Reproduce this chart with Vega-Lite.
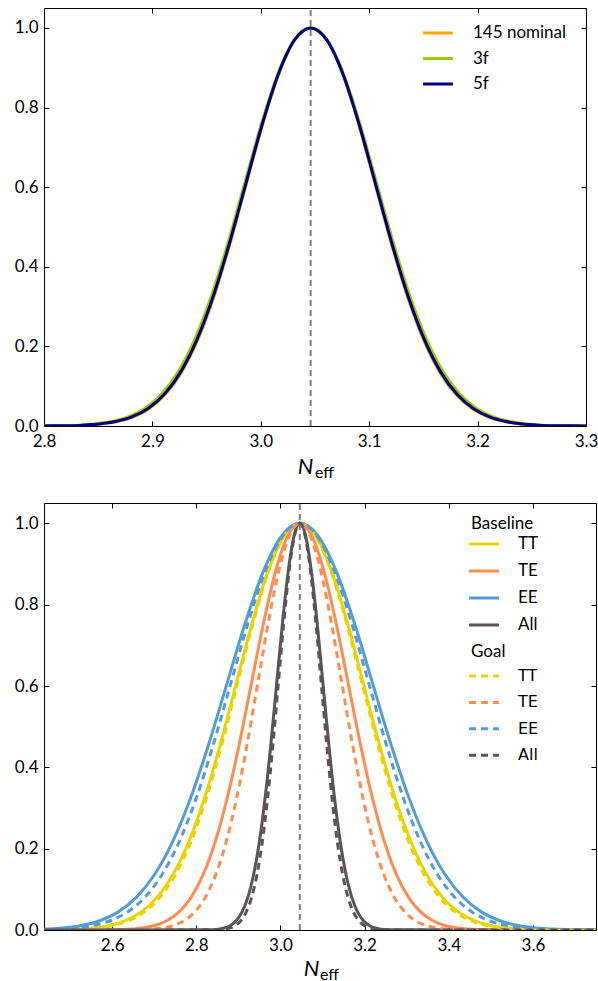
{
"$schema": "https://vega.github.io/schema/vega-lite/v6.json",
"autosize": {"type": "pad"},
"padding": {"left": 13, "top": 6, "right": 0, "bottom": 0},
"spacing": 77,
"bounds": "flush",
"resolve": {"scale": {"color": "independent", "stroke": "independent"}, "legend": {"color": "independent", "stroke": "independent"}},
"config": {
  "view": {"stroke": "black", "strokeWidth": 1},
  "font": "Lato",
  "axis": {"domain": false, "grid": false, "tickSize": -5, "tickColor": "black", "tickWidth": 1, "labelFont": "Lato", "labelFontSize": 17, "labelColor": "black", "labelFlush": false, "labelOverlap": false, "titleColor": "black"},
  "legend": {"padding": 0, "labelFont": "Lato", "labelFontSize": 17, "labelColor": "black", "titleFont": "Lato", "titleFontSize": 17, "titleFontWeight": "normal", "titleColor": "black", "titlePadding": 2, "symbolType": "M-1.3,0H1.3", "symbolSize": 529, "symbolStrokeWidth": 3}
},
"datasets": {
"top": [
{"s":"145 nominal","x":2.75,"y":0},
{"s":"145 nominal","x":2.808,"y":0.000335},{"s":"145 nominal","x":2.8229,"y":0.000884},{"s":"145 nominal","x":2.8378,"y":0.002187},{"s":"145 nominal","x":2.8526,"y":0.005086},{"s":"145 nominal","x":2.8675,"y":0.01111},{"s":"145 nominal","x":2.8824,"y":0.02279},{"s":"145 nominal","x":2.8973,"y":0.04394},{"s":"145 nominal","x":2.9121,"y":0.07956},{"s":"145 nominal","x":2.927,"y":0.13534},{"s":"145 nominal","x":2.9419,"y":0.21627},{"s":"145 nominal","x":2.9568,"y":0.32465},{"s":"145 nominal","x":2.9716,"y":0.45783},{"s":"145 nominal","x":2.9865,"y":0.60653},{"s":"145 nominal","x":3.0014,"y":0.75484},{"s":"145 nominal","x":3.0163,"y":0.8825},{"s":"145 nominal","x":3.0311,"y":0.96923},{"s":"145 nominal","x":3.046,"y":1},{"s":"145 nominal","x":3.0609,"y":0.96923},{"s":"145 nominal","x":3.0758,"y":0.8825},{"s":"145 nominal","x":3.0906,"y":0.75484},{"s":"145 nominal","x":3.1055,"y":0.60653},{"s":"145 nominal","x":3.1204,"y":0.45783},{"s":"145 nominal","x":3.1353,"y":0.32465},{"s":"145 nominal","x":3.1501,"y":0.21627},{"s":"145 nominal","x":3.165,"y":0.13534},{"s":"145 nominal","x":3.1799,"y":0.07956},{"s":"145 nominal","x":3.1948,"y":0.04394},{"s":"145 nominal","x":3.2096,"y":0.02279},{"s":"145 nominal","x":3.2245,"y":0.01111},{"s":"145 nominal","x":3.2394,"y":0.005086},{"s":"145 nominal","x":3.2543,"y":0.002187},{"s":"145 nominal","x":3.2691,"y":0.000884},{"s":"145 nominal","x":3.284,"y":0.000335},
{"s":"145 nominal","x":3.35,"y":0},
{"s":"3f","x":2.75,"y":0},
{"s":"3f","x":2.8012,"y":0.000335},{"s":"3f","x":2.8165,"y":0.000884},{"s":"3f","x":2.8318,"y":0.002187},{"s":"3f","x":2.8471,"y":0.005086},{"s":"3f","x":2.8624,"y":0.01111},{"s":"3f","x":2.8777,"y":0.02279},{"s":"3f","x":2.893,"y":0.04394},{"s":"3f","x":2.9083,"y":0.07956},{"s":"3f","x":2.9236,"y":0.13534},{"s":"3f","x":2.9389,"y":0.21627},{"s":"3f","x":2.9542,"y":0.32465},{"s":"3f","x":2.9695,"y":0.45783},{"s":"3f","x":2.9848,"y":0.60653},{"s":"3f","x":3.0001,"y":0.75484},{"s":"3f","x":3.0154,"y":0.8825},{"s":"3f","x":3.0307,"y":0.96923},{"s":"3f","x":3.046,"y":1},{"s":"3f","x":3.0613,"y":0.96923},{"s":"3f","x":3.0766,"y":0.8825},{"s":"3f","x":3.0919,"y":0.75484},{"s":"3f","x":3.1072,"y":0.60653},{"s":"3f","x":3.1225,"y":0.45783},{"s":"3f","x":3.1378,"y":0.32465},{"s":"3f","x":3.1531,"y":0.21627},{"s":"3f","x":3.1684,"y":0.13534},{"s":"3f","x":3.1837,"y":0.07956},{"s":"3f","x":3.199,"y":0.04394},{"s":"3f","x":3.2143,"y":0.02279},{"s":"3f","x":3.2296,"y":0.01111},{"s":"3f","x":3.2449,"y":0.005086},{"s":"3f","x":3.2602,"y":0.002187},{"s":"3f","x":3.2755,"y":0.000884},{"s":"3f","x":3.2908,"y":0.000335},
{"s":"3f","x":3.35,"y":0},
{"s":"5f","x":2.75,"y":0},
{"s":"5f","x":2.806,"y":0.000335},{"s":"5f","x":2.821,"y":0.000884},{"s":"5f","x":2.836,"y":0.002187},{"s":"5f","x":2.851,"y":0.005086},{"s":"5f","x":2.866,"y":0.01111},{"s":"5f","x":2.881,"y":0.02279},{"s":"5f","x":2.896,"y":0.04394},{"s":"5f","x":2.911,"y":0.07956},{"s":"5f","x":2.926,"y":0.13534},{"s":"5f","x":2.941,"y":0.21627},{"s":"5f","x":2.956,"y":0.32465},{"s":"5f","x":2.971,"y":0.45783},{"s":"5f","x":2.986,"y":0.60653},{"s":"5f","x":3.001,"y":0.75484},{"s":"5f","x":3.016,"y":0.8825},{"s":"5f","x":3.031,"y":0.96923},{"s":"5f","x":3.046,"y":1},{"s":"5f","x":3.061,"y":0.96923},{"s":"5f","x":3.076,"y":0.8825},{"s":"5f","x":3.091,"y":0.75484},{"s":"5f","x":3.106,"y":0.60653},{"s":"5f","x":3.121,"y":0.45783},{"s":"5f","x":3.136,"y":0.32465},{"s":"5f","x":3.151,"y":0.21627},{"s":"5f","x":3.166,"y":0.13534},{"s":"5f","x":3.181,"y":0.07956},{"s":"5f","x":3.196,"y":0.04394},{"s":"5f","x":3.211,"y":0.02279},{"s":"5f","x":3.226,"y":0.01111},{"s":"5f","x":3.241,"y":0.005086},{"s":"5f","x":3.256,"y":0.002187},{"s":"5f","x":3.271,"y":0.000884},{"s":"5f","x":3.286,"y":0.000335},
{"s":"5f","x":3.35,"y":0}
],
"base": [
{"s":"TT","x":2.3,"y":0},
{"s":"TT","x":2.442,"y":0.000335},{"s":"TT","x":2.4798,"y":0.000884},{"s":"TT","x":2.5175,"y":0.002187},{"s":"TT","x":2.5553,"y":0.005086},{"s":"TT","x":2.593,"y":0.01111},{"s":"TT","x":2.6308,"y":0.02279},{"s":"TT","x":2.6685,"y":0.04394},{"s":"TT","x":2.7063,"y":0.07956},{"s":"TT","x":2.744,"y":0.13534},{"s":"TT","x":2.7818,"y":0.21627},{"s":"TT","x":2.8195,"y":0.32465},{"s":"TT","x":2.8573,"y":0.45783},{"s":"TT","x":2.895,"y":0.60653},{"s":"TT","x":2.9328,"y":0.75484},{"s":"TT","x":2.9705,"y":0.8825},{"s":"TT","x":3.0083,"y":0.96923},{"s":"TT","x":3.046,"y":1},{"s":"TT","x":3.0838,"y":0.96923},{"s":"TT","x":3.1215,"y":0.8825},{"s":"TT","x":3.1593,"y":0.75484},{"s":"TT","x":3.197,"y":0.60653},{"s":"TT","x":3.2348,"y":0.45783},{"s":"TT","x":3.2725,"y":0.32465},{"s":"TT","x":3.3103,"y":0.21627},{"s":"TT","x":3.348,"y":0.13534},{"s":"TT","x":3.3858,"y":0.07956},{"s":"TT","x":3.4235,"y":0.04394},{"s":"TT","x":3.4613,"y":0.02279},{"s":"TT","x":3.499,"y":0.01111},{"s":"TT","x":3.5368,"y":0.005086},{"s":"TT","x":3.5745,"y":0.002187},{"s":"TT","x":3.6123,"y":0.000884},{"s":"TT","x":3.65,"y":0.000335},
{"s":"TT","x":3.85,"y":0},
{"s":"TE","x":2.3,"y":0},
{"s":"TE","x":2.586,"y":0.000335},{"s":"TE","x":2.6148,"y":0.000884},{"s":"TE","x":2.6435,"y":0.002187},{"s":"TE","x":2.6723,"y":0.005086},{"s":"TE","x":2.701,"y":0.01111},{"s":"TE","x":2.7298,"y":0.02279},{"s":"TE","x":2.7585,"y":0.04394},{"s":"TE","x":2.7873,"y":0.07956},{"s":"TE","x":2.816,"y":0.13534},{"s":"TE","x":2.8448,"y":0.21627},{"s":"TE","x":2.8735,"y":0.32465},{"s":"TE","x":2.9023,"y":0.45783},{"s":"TE","x":2.931,"y":0.60653},{"s":"TE","x":2.9598,"y":0.75484},{"s":"TE","x":2.9885,"y":0.8825},{"s":"TE","x":3.0173,"y":0.96923},{"s":"TE","x":3.046,"y":1},{"s":"TE","x":3.0748,"y":0.96923},{"s":"TE","x":3.1035,"y":0.8825},{"s":"TE","x":3.1323,"y":0.75484},{"s":"TE","x":3.161,"y":0.60653},{"s":"TE","x":3.1898,"y":0.45783},{"s":"TE","x":3.2185,"y":0.32465},{"s":"TE","x":3.2473,"y":0.21627},{"s":"TE","x":3.276,"y":0.13534},{"s":"TE","x":3.3048,"y":0.07956},{"s":"TE","x":3.3335,"y":0.04394},{"s":"TE","x":3.3623,"y":0.02279},{"s":"TE","x":3.391,"y":0.01111},{"s":"TE","x":3.4198,"y":0.005086},{"s":"TE","x":3.4485,"y":0.002187},{"s":"TE","x":3.4773,"y":0.000884},{"s":"TE","x":3.506,"y":0.000335},
{"s":"TE","x":3.85,"y":0},
{"s":"EE","x":2.3,"y":0},
{"s":"EE","x":2.354,"y":0.000335},{"s":"EE","x":2.3973,"y":0.000884},{"s":"EE","x":2.4405,"y":0.002187},{"s":"EE","x":2.4838,"y":0.005086},{"s":"EE","x":2.527,"y":0.01111},{"s":"EE","x":2.5703,"y":0.02279},{"s":"EE","x":2.6135,"y":0.04394},{"s":"EE","x":2.6568,"y":0.07956},{"s":"EE","x":2.7,"y":0.13534},{"s":"EE","x":2.7433,"y":0.21627},{"s":"EE","x":2.7865,"y":0.32465},{"s":"EE","x":2.8298,"y":0.45783},{"s":"EE","x":2.873,"y":0.60653},{"s":"EE","x":2.9163,"y":0.75484},{"s":"EE","x":2.9595,"y":0.8825},{"s":"EE","x":3.0028,"y":0.96923},{"s":"EE","x":3.046,"y":1},{"s":"EE","x":3.0893,"y":0.96923},{"s":"EE","x":3.1325,"y":0.8825},{"s":"EE","x":3.1758,"y":0.75484},{"s":"EE","x":3.219,"y":0.60653},{"s":"EE","x":3.2623,"y":0.45783},{"s":"EE","x":3.3055,"y":0.32465},{"s":"EE","x":3.3488,"y":0.21627},{"s":"EE","x":3.392,"y":0.13534},{"s":"EE","x":3.4353,"y":0.07956},{"s":"EE","x":3.4785,"y":0.04394},{"s":"EE","x":3.5218,"y":0.02279},{"s":"EE","x":3.565,"y":0.01111},{"s":"EE","x":3.6083,"y":0.005086},{"s":"EE","x":3.6515,"y":0.002187},{"s":"EE","x":3.6948,"y":0.000884},{"s":"EE","x":3.738,"y":0.000335},
{"s":"EE","x":3.85,"y":0},
{"s":"All","x":2.3,"y":0},
{"s":"All","x":2.826,"y":0.000335},{"s":"All","x":2.8398,"y":0.000884},{"s":"All","x":2.8535,"y":0.002187},{"s":"All","x":2.8673,"y":0.005086},{"s":"All","x":2.881,"y":0.01111},{"s":"All","x":2.8948,"y":0.02279},{"s":"All","x":2.9085,"y":0.04394},{"s":"All","x":2.9223,"y":0.07956},{"s":"All","x":2.936,"y":0.13534},{"s":"All","x":2.9498,"y":0.21627},{"s":"All","x":2.9635,"y":0.32465},{"s":"All","x":2.9773,"y":0.45783},{"s":"All","x":2.991,"y":0.60653},{"s":"All","x":3.0048,"y":0.75484},{"s":"All","x":3.0185,"y":0.8825},{"s":"All","x":3.0323,"y":0.96923},{"s":"All","x":3.046,"y":1},{"s":"All","x":3.0598,"y":0.96923},{"s":"All","x":3.0735,"y":0.8825},{"s":"All","x":3.0873,"y":0.75484},{"s":"All","x":3.101,"y":0.60653},{"s":"All","x":3.1148,"y":0.45783},{"s":"All","x":3.1285,"y":0.32465},{"s":"All","x":3.1423,"y":0.21627},{"s":"All","x":3.156,"y":0.13534},{"s":"All","x":3.1698,"y":0.07956},{"s":"All","x":3.1835,"y":0.04394},{"s":"All","x":3.1973,"y":0.02279},{"s":"All","x":3.211,"y":0.01111},{"s":"All","x":3.2248,"y":0.005086},{"s":"All","x":3.2385,"y":0.002187},{"s":"All","x":3.2523,"y":0.000884},{"s":"All","x":3.266,"y":0.000335},
{"s":"All","x":3.85,"y":0}
],
"goal": [
{"s":"gTT","x":2.3,"y":0},
{"s":"gTT","x":2.454,"y":0.000335},{"s":"gTT","x":2.491,"y":0.000884},{"s":"gTT","x":2.528,"y":0.002187},{"s":"gTT","x":2.565,"y":0.005086},{"s":"gTT","x":2.602,"y":0.01111},{"s":"gTT","x":2.639,"y":0.02279},{"s":"gTT","x":2.676,"y":0.04394},{"s":"gTT","x":2.713,"y":0.07956},{"s":"gTT","x":2.75,"y":0.13534},{"s":"gTT","x":2.787,"y":0.21627},{"s":"gTT","x":2.824,"y":0.32465},{"s":"gTT","x":2.861,"y":0.45783},{"s":"gTT","x":2.898,"y":0.60653},{"s":"gTT","x":2.935,"y":0.75484},{"s":"gTT","x":2.972,"y":0.8825},{"s":"gTT","x":3.009,"y":0.96923},{"s":"gTT","x":3.046,"y":1},{"s":"gTT","x":3.083,"y":0.96923},{"s":"gTT","x":3.12,"y":0.8825},{"s":"gTT","x":3.157,"y":0.75484},{"s":"gTT","x":3.194,"y":0.60653},{"s":"gTT","x":3.231,"y":0.45783},{"s":"gTT","x":3.268,"y":0.32465},{"s":"gTT","x":3.305,"y":0.21627},{"s":"gTT","x":3.342,"y":0.13534},{"s":"gTT","x":3.379,"y":0.07956},{"s":"gTT","x":3.416,"y":0.04394},{"s":"gTT","x":3.453,"y":0.02279},{"s":"gTT","x":3.49,"y":0.01111},{"s":"gTT","x":3.527,"y":0.005086},{"s":"gTT","x":3.564,"y":0.002187},{"s":"gTT","x":3.601,"y":0.000884},{"s":"gTT","x":3.638,"y":0.000335},
{"s":"gTT","x":3.85,"y":0},
{"s":"gTE","x":2.3,"y":0},
{"s":"gTE","x":2.646,"y":0.000335},{"s":"gTE","x":2.671,"y":0.000884},{"s":"gTE","x":2.696,"y":0.002187},{"s":"gTE","x":2.721,"y":0.005086},{"s":"gTE","x":2.746,"y":0.01111},{"s":"gTE","x":2.771,"y":0.02279},{"s":"gTE","x":2.796,"y":0.04394},{"s":"gTE","x":2.821,"y":0.07956},{"s":"gTE","x":2.846,"y":0.13534},{"s":"gTE","x":2.871,"y":0.21627},{"s":"gTE","x":2.896,"y":0.32465},{"s":"gTE","x":2.921,"y":0.45783},{"s":"gTE","x":2.946,"y":0.60653},{"s":"gTE","x":2.971,"y":0.75484},{"s":"gTE","x":2.996,"y":0.8825},{"s":"gTE","x":3.021,"y":0.96923},{"s":"gTE","x":3.046,"y":1},{"s":"gTE","x":3.071,"y":0.96923},{"s":"gTE","x":3.096,"y":0.8825},{"s":"gTE","x":3.121,"y":0.75484},{"s":"gTE","x":3.146,"y":0.60653},{"s":"gTE","x":3.171,"y":0.45783},{"s":"gTE","x":3.196,"y":0.32465},{"s":"gTE","x":3.221,"y":0.21627},{"s":"gTE","x":3.246,"y":0.13534},{"s":"gTE","x":3.271,"y":0.07956},{"s":"gTE","x":3.296,"y":0.04394},{"s":"gTE","x":3.321,"y":0.02279},{"s":"gTE","x":3.346,"y":0.01111},{"s":"gTE","x":3.371,"y":0.005086},{"s":"gTE","x":3.396,"y":0.002187},{"s":"gTE","x":3.421,"y":0.000884},{"s":"gTE","x":3.446,"y":0.000335},
{"s":"gTE","x":3.85,"y":0},
{"s":"gEE","x":2.3,"y":0},
{"s":"gEE","x":2.39,"y":0.000335},{"s":"gEE","x":2.431,"y":0.000884},{"s":"gEE","x":2.472,"y":0.002187},{"s":"gEE","x":2.513,"y":0.005086},{"s":"gEE","x":2.554,"y":0.01111},{"s":"gEE","x":2.595,"y":0.02279},{"s":"gEE","x":2.636,"y":0.04394},{"s":"gEE","x":2.677,"y":0.07956},{"s":"gEE","x":2.718,"y":0.13534},{"s":"gEE","x":2.759,"y":0.21627},{"s":"gEE","x":2.8,"y":0.32465},{"s":"gEE","x":2.841,"y":0.45783},{"s":"gEE","x":2.882,"y":0.60653},{"s":"gEE","x":2.923,"y":0.75484},{"s":"gEE","x":2.964,"y":0.8825},{"s":"gEE","x":3.005,"y":0.96923},{"s":"gEE","x":3.046,"y":1},{"s":"gEE","x":3.087,"y":0.96923},{"s":"gEE","x":3.128,"y":0.8825},{"s":"gEE","x":3.169,"y":0.75484},{"s":"gEE","x":3.21,"y":0.60653},{"s":"gEE","x":3.251,"y":0.45783},{"s":"gEE","x":3.292,"y":0.32465},{"s":"gEE","x":3.333,"y":0.21627},{"s":"gEE","x":3.374,"y":0.13534},{"s":"gEE","x":3.415,"y":0.07956},{"s":"gEE","x":3.456,"y":0.04394},{"s":"gEE","x":3.497,"y":0.02279},{"s":"gEE","x":3.538,"y":0.01111},{"s":"gEE","x":3.579,"y":0.005086},{"s":"gEE","x":3.62,"y":0.002187},{"s":"gEE","x":3.661,"y":0.000884},{"s":"gEE","x":3.702,"y":0.000335},
{"s":"gEE","x":3.85,"y":0},
{"s":"gAll","x":2.3,"y":0},
{"s":"gAll","x":2.842,"y":0.000335},{"s":"gAll","x":2.8548,"y":0.000884},{"s":"gAll","x":2.8675,"y":0.002187},{"s":"gAll","x":2.8803,"y":0.005086},{"s":"gAll","x":2.893,"y":0.01111},{"s":"gAll","x":2.9058,"y":0.02279},{"s":"gAll","x":2.9185,"y":0.04394},{"s":"gAll","x":2.9313,"y":0.07956},{"s":"gAll","x":2.944,"y":0.13534},{"s":"gAll","x":2.9568,"y":0.21627},{"s":"gAll","x":2.9695,"y":0.32465},{"s":"gAll","x":2.9823,"y":0.45783},{"s":"gAll","x":2.995,"y":0.60653},{"s":"gAll","x":3.0078,"y":0.75484},{"s":"gAll","x":3.0205,"y":0.8825},{"s":"gAll","x":3.0333,"y":0.96923},{"s":"gAll","x":3.046,"y":1},{"s":"gAll","x":3.0588,"y":0.96923},{"s":"gAll","x":3.0715,"y":0.8825},{"s":"gAll","x":3.0843,"y":0.75484},{"s":"gAll","x":3.097,"y":0.60653},{"s":"gAll","x":3.1098,"y":0.45783},{"s":"gAll","x":3.1225,"y":0.32465},{"s":"gAll","x":3.1353,"y":0.21627},{"s":"gAll","x":3.148,"y":0.13534},{"s":"gAll","x":3.1608,"y":0.07956},{"s":"gAll","x":3.1735,"y":0.04394},{"s":"gAll","x":3.1863,"y":0.02279},{"s":"gAll","x":3.199,"y":0.01111},{"s":"gAll","x":3.2118,"y":0.005086},{"s":"gAll","x":3.2245,"y":0.002187},{"s":"gAll","x":3.2373,"y":0.000884},{"s":"gAll","x":3.25,"y":0.000335},
{"s":"gAll","x":3.85,"y":0}
]
},
"vconcat": [
{
  "width": 542, "height": 418,
  "layer": [
    {
      "data": {"values": [{}]},
      "mark": {"type": "rule", "color": "#808080", "strokeWidth": 2, "strokeDash": [6, 4]},
      "encoding": {
        "x": {"datum": 3.046, "type": "quantitative", "scale": {"domain": [2.8, 3.3], "nice": false, "zero": false},
              "axis": {"orient": "top", "values": [2.8, 2.9, 3.0, 3.1, 3.2, 3.3], "labels": false, "title": "eff", "titleFont": "Lato", "titleFontSize": 16, "titleFontWeight": "normal", "titleFontStyle": "normal", "titleX": 280, "titleY": 469, "titleAlign": "center", "titleBaseline": "alphabetic"}},
        "y": {"datum": 0, "type": "quantitative", "scale": {"domain": [0, 1.05], "nice": false},
              "axis": {"orient": "right", "values": [0, 0.2, 0.4, 0.6, 0.8, 1.0], "labels": false, "title": null}},
        "y2": {"datum": 1.05}
      }
    },
    {
      "data": {"name": "top"},
      "mark": {"type": "line", "strokeWidth": 3, "interpolate": "monotone", "clip": true},
      "encoding": {
        "x": {"field": "x", "type": "quantitative", "scale": {"domain": [2.8, 3.3], "nice": false, "zero": false},
              "axis": {"orient": "bottom", "values": [2.8, 2.9, 3.0, 3.1, 3.2, 3.3], "format": ".1f", "labelPadding": 12, "title": "N", "titleFont": "Lato", "titleFontSize": 22, "titleFontStyle": "italic", "titleFontWeight": "normal", "titleX": 261, "titleY": 47, "titleAlign": "center", "titleBaseline": "alphabetic"}},
        "y": {"field": "y", "type": "quantitative", "scale": {"domain": [0, 1.05], "nice": false},
              "axis": {"orient": "left", "values": [0, 0.2, 0.4, 0.6, 0.8, 1.0], "format": ".1f", "labelPadding": 11, "title": null}},
        "color": {"field": "s", "type": "nominal", "scale": {"domain": ["145 nominal", "3f", "5f"], "range": ["#FFA500", "#99CC00", "#000080"]},
                  "legend": {"orient": "none", "legendX": 381, "legendY": 12, "title": null, "labelOffset": 22, "rowPadding": 4.5}}
      }
    }
  ],
  "resolve": {"axis": {"x": "independent", "y": "independent"}}
},
{
  "width": 552, "height": 427,
  "layer": [
    {
      "data": {"values": [{}]},
      "mark": {"type": "rule", "color": "#808080", "strokeWidth": 2, "strokeDash": [6, 4]},
      "encoding": {
        "x": {"datum": 3.046, "type": "quantitative", "scale": {"domain": [2.438, 3.75], "nice": false, "zero": false},
              "axis": {"orient": "top", "values": [2.6, 2.8, 3.0, 3.2, 3.4, 3.6], "labels": false, "title": "eff", "titleFont": "Lato", "titleFontSize": 16, "titleFontWeight": "normal", "titleFontStyle": "normal", "titleX": 285, "titleY": 476, "titleAlign": "center", "titleBaseline": "alphabetic"}},
        "y": {"datum": 0, "type": "quantitative", "scale": {"domain": [0, 1.05], "nice": false},
              "axis": {"orient": "right", "values": [0, 0.2, 0.4, 0.6, 0.8, 1.0], "labels": false, "title": null}},
        "y2": {"datum": 1.05}
      }
    },
    {
      "data": {"name": "base"},
      "mark": {"type": "line", "strokeWidth": 3, "interpolate": "monotone", "clip": true},
      "encoding": {
        "x": {"field": "x", "type": "quantitative", "scale": {"domain": [2.438, 3.75], "nice": false, "zero": false},
              "axis": {"orient": "bottom", "values": [2.6, 2.8, 3.0, 3.2, 3.4, 3.6], "format": ".1f", "labelPadding": 12, "title": "N", "titleFont": "Lato", "titleFontSize": 22, "titleFontStyle": "italic", "titleFontWeight": "normal", "titleX": 267, "titleY": 45, "titleAlign": "center", "titleBaseline": "alphabetic"}},
        "y": {"field": "y", "type": "quantitative", "scale": {"domain": [0, 1.05], "nice": false},
              "axis": {"orient": "left", "values": [0, 0.2, 0.4, 0.6, 0.8, 1.0], "format": ".1f", "labelPadding": 11, "title": null}},
        "color": {"field": "s", "type": "nominal", "scale": {"domain": ["TT", "TE", "EE", "All"], "range": ["#E8D500", "#FF8C50", "#559CD6", "#5A5458"]},
                  "legend": {"orient": "none", "legendX": 427, "legendY": 13, "title": "Baseline", "titlePadding": -2, "labelOffset": 21, "rowPadding": 6}}
      }
    },
    {
      "data": {"name": "goal"},
      "mark": {"type": "line", "strokeWidth": 3, "interpolate": "monotone", "clip": true, "strokeDash": [7, 5]},
      "encoding": {
        "x": {"field": "x", "type": "quantitative", "scale": {"domain": [2.438, 3.75], "nice": false, "zero": false}, "axis": null},
        "y": {"field": "y", "type": "quantitative", "scale": {"domain": [0, 1.05], "nice": false}, "axis": null},
        "stroke": {"field": "s", "type": "nominal", "scale": {"domain": ["gTT", "gTE", "gEE", "gAll"], "range": ["#E8D500", "#FF8C50", "#559CD6", "#5A5458"]},
                  "legend": {"orient": "none", "legendX": 427, "legendY": 141, "title": "Goal", "labelExpr": "slice(datum.label, 1)", "labelOffset": 21, "rowPadding": 5.4, "symbolDash": [7, 5], "labelFont": "DejaVu Sans", "labelFontSize": 16}}
      }
    }
  ],
  "resolve": {"axis": {"x": "independent", "y": "independent"}}
}
]
}
